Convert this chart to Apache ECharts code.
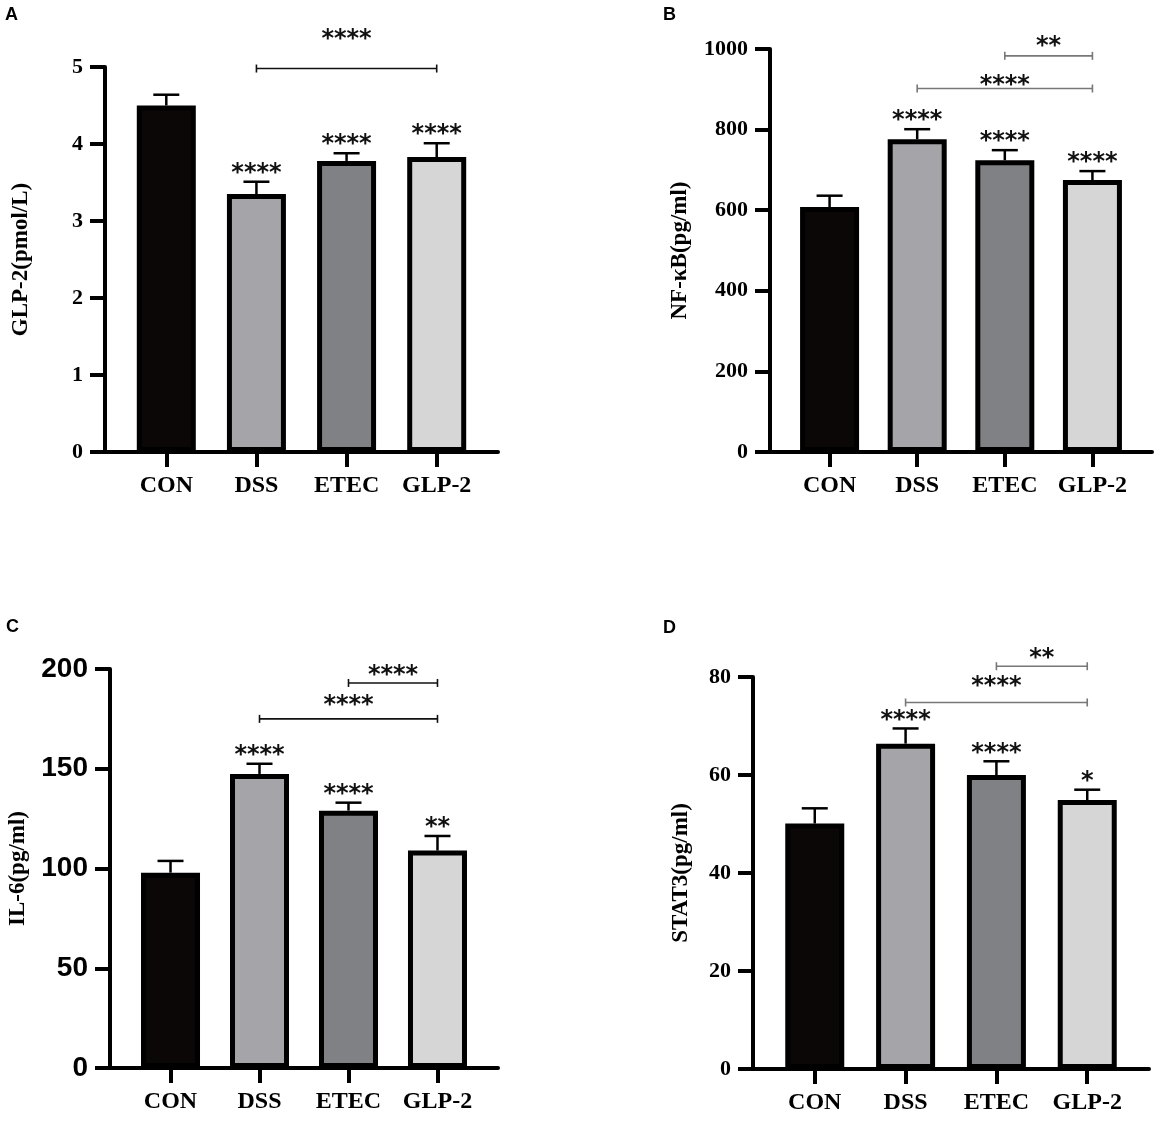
<!DOCTYPE html>
<html><head><meta charset="utf-8">
<script src="https://cdn.jsdelivr.net/npm/echarts@6/dist/echarts.min.js"></script>
<style>html,body{margin:0;padding:0;background:#fff}#c{width:1170px;height:1121px}</style>
</head><body><div id="c"></div>
<script>
// ---------- data ----------
const categories = ['CON', 'DSS', 'ETEC', 'GLP-2'];
const barColors = ['#0b0707', '#a5a5a9', '#808184', '#d6d6d6'];

const glp2Mean = [4.50, 3.35, 3.78, 3.83];
const glp2Err = [0.14, 0.16, 0.10, 0.18];
const glp2Stars = ['', '****', '****', '****'];
const glp2Brackets = [[1, 3, 4.98]];
const glp2BracketLabels = ['****'];

const nfkbMean = [608, 776, 724, 675];
const nfkbErr = [28, 25, 25, 22];
const nfkbStars = ['', '****', '****', '****'];
const nfkbBrackets = [[2, 3, 983], [1, 3, 902]];
const nfkbBracketLabels = ['**', '****'];

const il6Mean = [97.9, 147.4, 129, 109];
const il6Err = [5.9, 5.1, 4.0, 7.3];
const il6Stars = ['', '****', '****', '**'];
const il6Brackets = [[2, 3, 193], [1, 3, 175]];
const il6BracketLabels = ['****', '****'];

const stat3Mean = [50.1, 66.4, 60.0, 54.9];
const stat3Err = [3.1, 3.1, 2.8, 2.1];
const stat3Stars = ['', '****', '****', '*'];
const stat3Brackets = [[2, 3, 82.2], [1, 3, 74.8]];
const stat3BracketLabels = ['**', '****'];

// ---------- layout / style ----------
const panels = [
  { letter: 'A', lx: 5, ly: 6, grid: { left: 105, top: 67, width: 393, height: 385 },
    max: 5, interval: 1, title: 'GLP-2(pmol/L)', tickFont: 'Liberation Serif', tickSize: 22, nameGap: 72,
    mean: glp2Mean, err: glp2Err, stars: glp2Stars, br: glp2Brackets, brl: glp2BracketLabels,
    brColor: '#111', brGap: [27] },
  { letter: 'B', lx: 663, ly: 6, grid: { left: 770, top: 49, width: 382, height: 403 },
    max: 1000, interval: 200, title: 'NF-κB(pg/ml)', tickFont: 'Liberation Serif', tickSize: 22, nameGap: 78,
    mean: nfkbMean, err: nfkbErr, stars: nfkbStars, br: nfkbBrackets, brl: nfkbBracketLabels,
    brColor: '#777', brGap: [7, 1] },
  { letter: 'C', lx: 6, ly: 618, grid: { left: 110, top: 669, width: 388, height: 399 },
    max: 200, interval: 50, title: 'IL-6(pg/ml)', tickFont: 'Liberation Sans', tickSize: 28, nameGap: 80,
    mean: il6Mean, err: il6Err, stars: il6Stars, br: il6Brackets, brl: il6BracketLabels,
    brColor: '#111', brGap: [5, 11] },
  { letter: 'D', lx: 663, ly: 619, grid: { left: 753, top: 677, width: 396, height: 392 },
    max: 80, interval: 20, title: 'STAT3(pg/ml)', tickFont: 'Liberation Serif', tickSize: 22, nameGap: 60,
    mean: stat3Mean, err: stat3Err, stars: stat3Stars, br: stat3Brackets, brl: stat3BracketLabels,
    brColor: '#777', brGap: [5, 14] }
];

const STAR_FONT = 'bold 24px "DejaVu Sans"';
const chart = echarts.init(document.getElementById('c'), null, { renderer: 'canvas' });

const grid = [], xAxis = [], yAxis = [], series = [], graphic = [];
panels.forEach((p, i) => {
  grid.push(Object.assign({ containLabel: false }, p.grid));
  xAxis.push({
    type: 'value', gridIndex: i, min: -0.68, max: 3.68,
    axisLine: { show: true, onZero: false, lineStyle: { color: '#000', width: 4 } },
    axisTick: { show: true, length: 15, lineStyle: { color: '#000', width: 4 }, customValues: [0, 1, 2, 3] },
    axisLabel: { customValues: [0, 1, 2, 3], formatter: v => categories[Math.round(v)], margin: 22,
      fontFamily: 'Liberation Serif', fontWeight: 'bold', fontSize: 24, color: '#000' },
    splitLine: { show: false }
  });
  yAxis.push({
    type: 'value', gridIndex: i, min: 0, max: p.max, interval: p.interval,
    name: p.title, nameLocation: 'middle', nameGap: p.nameGap, nameRotate: 90,
    nameTextStyle: { fontFamily: 'Liberation Serif', fontWeight: 'bold', fontSize: 23, color: '#000' },
    axisLine: { show: true, onZero: false, lineStyle: { color: '#000', width: 4 } },
    axisTick: { show: true, length: 15, lineStyle: { color: '#000', width: 4 } },
    axisLabel: { margin: 22, formatter: v => String(v), fontFamily: p.tickFont, fontWeight: 'bold', fontSize: p.tickSize, color: '#000' },
    splitLine: { show: false }
  });
  series.push({
    type: 'bar', xAxisIndex: i, yAxisIndex: i, barWidth: 59, z: 2,
    itemStyle: { borderColor: '#000', borderWidth: 5 },
    data: p.mean.map((v, j) => ({ value: [j, v], itemStyle: { color: barColors[j] } }))
  });
  const stars = p.stars;
  series.push({
    type: 'custom', xAxisIndex: i, yAxisIndex: i, z: 3,
    data: p.mean.map((v, j) => [j, v, v + p.err[j]]),
    renderItem: (params, api) => {
      const x = api.value(0), lo = api.value(1), hi = api.value(2);
      const p0 = api.coord([x, lo]), p1 = api.coord([x, hi]);
      const ch = [
        { type: 'line', shape: { x1: p0[0], y1: p0[1], x2: p1[0], y2: p1[1] }, style: { stroke: '#000', lineWidth: 2.5 } },
        { type: 'line', shape: { x1: p1[0] - 13, y1: p1[1], x2: p1[0] + 13, y2: p1[1] }, style: { stroke: '#000', lineWidth: 2.5 } }
      ];
      const s = stars[params.dataIndex];
      if (s) ch.push({ type: 'text', x: p1[0], y: p1[1] + 4, style: { text: s, font: STAR_FONT, fill: '#111', align: 'center', verticalAlign: 'bottom' } });
      return { type: 'group', children: ch };
    }
  });
  const brl = p.brl, brColor = p.brColor, brGap = p.brGap;
  series.push({
    type: 'custom', xAxisIndex: i, yAxisIndex: i, z: 3,
    data: p.br,
    renderItem: (params, api) => {
      const a = api.coord([api.value(0), api.value(2)]);
      const b = api.coord([api.value(1), api.value(2)]);
      const g = brGap[params.dataIndex];
      return { type: 'group', children: [
        { type: 'line', shape: { x1: a[0], y1: a[1], x2: b[0], y2: b[1] }, style: { stroke: brColor, lineWidth: 1.6 } },
        { type: 'line', shape: { x1: a[0], y1: a[1] - 4, x2: a[0], y2: a[1] + 4 }, style: { stroke: brColor, lineWidth: 1.6 } },
        { type: 'line', shape: { x1: b[0], y1: b[1] - 4, x2: b[0], y2: b[1] + 4 }, style: { stroke: brColor, lineWidth: 1.6 } },
        { type: 'text', x: (a[0] + b[0]) / 2, y: a[1] - g + 10, style: { text: brl[params.dataIndex], font: STAR_FONT, fill: '#111', align: 'center', verticalAlign: 'bottom' } }
      ] };
    }
  });
  graphic.push({ type: 'text', left: p.lx, top: p.ly, style: { text: p.letter, font: 'bold 18px "Liberation Sans"', fill: '#000' } });
});

chart.setOption({ animation: false, backgroundColor: '#fff', grid, xAxis, yAxis, series, graphic });
</script>
</body></html>
